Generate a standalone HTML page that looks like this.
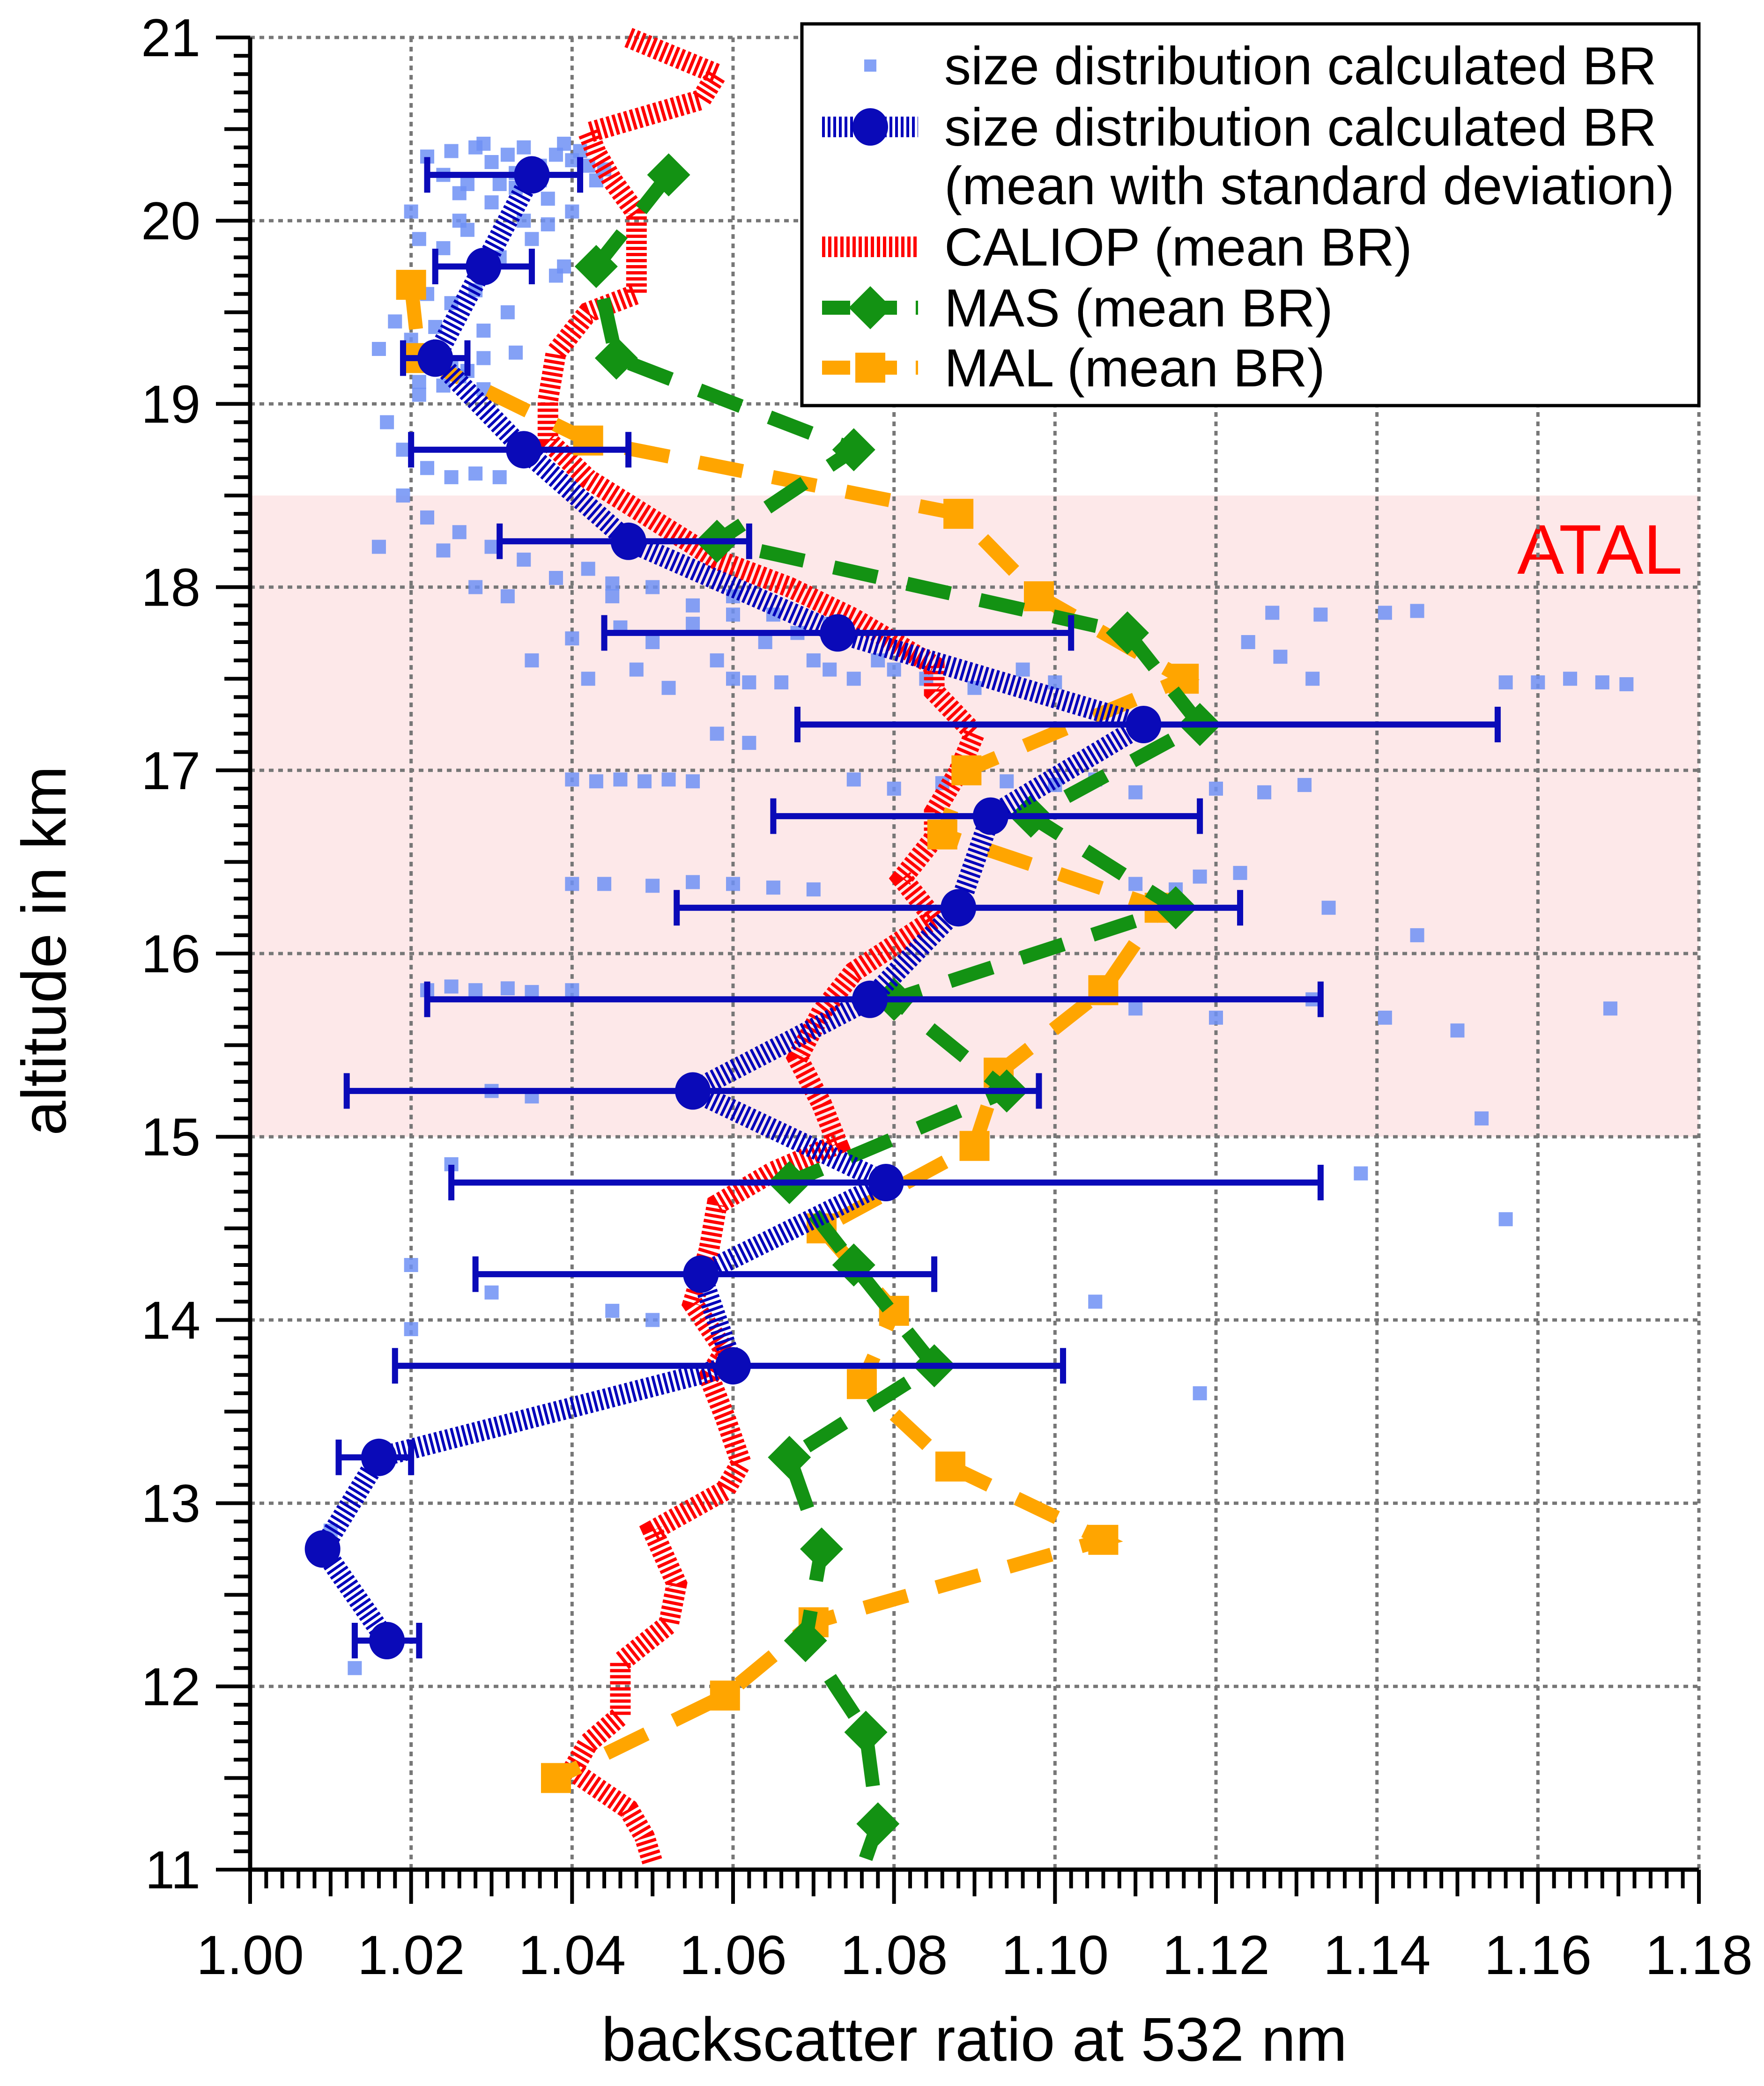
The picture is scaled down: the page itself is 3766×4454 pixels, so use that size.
<!DOCTYPE html>
<html><head><meta charset="utf-8"><style>
html,body{margin:0;padding:0;background:#fff}
svg{display:block}
text{font-family:"Liberation Sans",sans-serif}
</style></head><body>
<svg id="chart" width="3766" height="4454" viewBox="0 0 3766 4454" xmlns="http://www.w3.org/2000/svg">
<g id="bg"></g><g id="grid"></g><g id="series"></g><g id="axes"></g><g id="legend"></g>
</svg>
<script>
// ---- data ----
const xTicks=[1.00,1.02,1.04,1.06,1.08,1.10,1.12,1.14,1.16,1.18];
const xTickLabels=["1.00","1.02","1.04","1.06","1.08","1.10","1.12","1.14","1.16","1.18"];
const yTicks=[11,12,13,14,15,16,17,18,19,20,21];
const yTickLabels=["11","12","13","14","15","16","17","18","19","20","21"];
const meanAlt=[20.25,19.75,19.25,18.75,18.25,17.75,17.25,16.75,16.25,15.75,15.25,14.75,14.25,13.75,13.25,12.75,12.25];
const meanBR=[1.035,1.029,1.023,1.034,1.047,1.073,1.111,1.092,1.088,1.077,1.055,1.079,1.056,1.060,1.016,1.009,1.017];
const errLo=[1.022,1.023,1.019,1.020,1.031,1.044,1.068,1.065,1.053,1.022,1.012,1.025,1.028,1.018,1.011,null,1.013];
const errHi=[1.041,1.035,1.027,1.047,1.062,1.102,1.155,1.118,1.123,1.133,1.098,1.133,1.085,1.101,1.020,null,1.021];
const masAlt=[20.25,19.75,19.25,18.75,18.25,17.75,17.25,16.75,16.25,15.75,15.25,14.75,14.3,13.75,13.25,12.75,12.25,11.75,11.25,11.0];
const masBR=[1.052,1.043,1.0455,1.075,1.058,1.109,1.118,1.097,1.115,1.080,1.094,1.067,1.075,1.085,1.067,1.071,1.069,1.0765,1.078,1.076];
const malAlt=[19.65,19.25,18.8,18.4,17.95,17.5,17.0,16.65,16.25,15.8,15.35,14.95,14.5,14.05,13.65,13.2,12.8,12.35,11.95,11.5];
const malBR=[1.020,1.021,1.042,1.088,1.098,1.116,1.089,1.086,1.113,1.106,1.093,1.090,1.071,1.080,1.076,1.087,1.106,1.070,1.059,1.038];
const calAlt=[21.0,20.8,20.66,20.48,20.37,20.22,20.04,19.75,19.6,19.5,19.28,19.02,18.8,18.59,18.37,18.15,18.0,17.83,17.57,17.43,17.2,16.99,16.77,16.63,16.41,16.19,15.9,15.68,15.43,15.18,14.96,14.81,14.63,14.38,14.09,13.83,13.69,13.47,13.22,13.07,12.85,12.56,12.34,12.13,11.84,11.69,11.54,11.33,11.18,11.04];
const calBR=[1.047,1.058,1.056,1.042,1.043,1.045,1.048,1.048,1.048,1.042,1.038,1.037,1.037,1.042,1.050,1.058,1.067,1.075,1.085,1.085,1.090,1.088,1.085,1.085,1.081,1.085,1.075,1.071,1.068,1.071,1.073,1.065,1.058,1.057,1.055,1.059,1.057,1.059,1.061,1.059,1.050,1.053,1.052,1.046,1.046,1.042,1.040,1.047,1.049,1.050];
const scBR=[1.022,1.025,1.028,1.030,1.032,1.034,1.036,1.038,1.040,1.042,1.044,1.026,1.030,1.033,1.037,1.040,1.043,1.021,1.020,1.024,1.027,1.031,1.035,1.039,1.022,1.025,1.028,1.032,1.038,1.018,1.016,1.020,1.023,1.026,1.029,1.021,1.024,1.017,1.019,1.022,1.025,1.028,1.031,1.034,1.019,1.022,1.026,1.030,1.034,1.038,1.042,1.045,1.016,1.024,1.028,1.032,1.040,1.046,1.050,1.055,1.060,1.064,1.068,1.072,1.035,1.042,1.048,1.052,1.058,1.062,1.045,1.050,1.055,1.060,1.065,1.070,1.075,1.080,1.127,1.133,1.141,1.145,1.060,1.066,1.072,1.078,1.084,1.090,1.096,1.100,1.156,1.160,1.164,1.168,1.171,1.128,1.132,1.124,1.058,1.062,1.040,1.043,1.046,1.049,1.052,1.055,1.075,1.080,1.086,1.094,1.100,1.105,1.110,1.120,1.126,1.131,1.040,1.044,1.050,1.055,1.060,1.065,1.070,1.110,1.115,1.118,1.123,1.134,1.145,1.022,1.025,1.028,1.032,1.035,1.040,1.110,1.120,1.132,1.141,1.150,1.169,1.030,1.035,1.153,1.025,1.138,1.156,1.020,1.030,1.045,1.050,1.105,1.020,1.118,1.013,1.010,1.024,1.027,1.029,1.033,1.036,1.039,1.041,1.031,1.034,1.037,1.026,1.029,1.023,1.027,1.021,1.025,1.029,1.033];
const scAlt=[20.35,20.38,20.4,20.32,20.36,20.4,20.3,20.36,20.33,20.3,20.28,20.15,20.1,20.18,20.12,20.05,20.22,19.9,20.05,19.85,19.95,19.8,19.9,19.75,19.6,19.55,19.62,19.5,19.7,19.45,19.3,19.35,19.2,19.15,19.25,19.05,19.1,18.9,18.75,18.65,18.6,18.62,18.6,18.7,18.5,18.38,18.3,18.22,18.15,18.05,18.1,18.02,18.22,18.2,18.0,17.95,17.72,17.78,17.7,17.8,17.85,17.7,17.75,17.8,17.6,17.5,17.55,17.45,17.6,17.48,17.95,18.0,17.9,17.95,17.85,17.6,17.5,17.55,17.86,17.85,17.86,17.87,17.5,17.48,17.55,17.6,17.5,17.45,17.55,17.48,17.48,17.48,17.5,17.48,17.47,17.62,17.5,17.7,17.2,17.15,16.95,16.94,16.95,16.94,16.95,16.94,16.95,16.9,16.93,16.94,16.92,16.95,16.88,16.9,16.88,16.92,16.38,16.38,16.37,16.39,16.38,16.36,16.35,16.38,16.35,16.42,16.44,16.25,16.1,15.8,15.82,15.8,15.81,15.79,15.8,15.7,15.65,15.75,15.65,15.58,15.7,15.25,15.22,15.1,14.85,14.8,14.55,14.3,14.15,14.05,14.0,14.1,13.95,13.6,12.1,12.85,20.25,20.2,20.42,20.26,20.22,20.42,20.38,20.2,20.0,19.98,20.0,19.4,19.42,19.18,19.12,19.2,19.08,19.28];
// ---- geometry ----
const X0=534,X1=3627,Y0=3992,Y1=80;
const xs=v=>X0+(v-1.0)/0.18*(X1-X0);
const ys=a=>Y0-(a-11)/10*(Y0-Y1);
const NS="http://www.w3.org/2000/svg";
function mk(tag,parent,attrs){const e=document.createElementNS(NS,tag);for(const k in attrs)e.setAttribute(k,attrs[k]);parent.appendChild(e);return e;}
const bg=document.getElementById('bg'),grid=document.getElementById('grid'),ser=document.getElementById('series'),axes=document.getElementById('axes'),leg=document.getElementById('legend');
// ATAL band
let band=mk('rect',bg,{x:X0,y:ys(18.5),width:X1-X0,height:ys(15)-ys(18.5),fill:'#fde8e9'});


let at=mk('text',bg,{x:3592,y:1225,'font-size':150,fill:'#ff0000','text-anchor':'end'});at.textContent='ATAL';


// grid
xTicks.forEach((v,i)=>{if(i==0)return;let l=mk('line',grid,{x1:xs(v),x2:xs(v),y1:Y1,y2:Y0,stroke:'#777',"stroke-width":7,"stroke-dasharray":"10 10"});

});
yTicks.forEach((a,i)=>{if(i==0)return;let l=mk('line',grid,{x1:X0,x2:X1,y1:ys(a),y2:ys(a),stroke:'#777',"stroke-width":7,"stroke-dasharray":"10 10"});

});
// scatter
scBR.forEach((v,i)=>{let r=mk('rect',ser,{x:xs(v)-15,y:ys(scAlt[i])-15,width:30,height:30,fill:'rgba(110,145,245,0.85)'});

});
function pts(b,a){return b.map((v,i)=>xs(v)+','+ys(a[i])).join(' ');}
// CALIOP
let cal=mk('polyline',ser,{points:pts(calBR,calAlt),fill:'none',stroke:'#ff0000','stroke-width':44,'stroke-dasharray':'7 6','stroke-linejoin':'miter'});


// MAL
let mal=mk('polyline',ser,{points:pts(malBR,malAlt),fill:'none',stroke:'#ffa500','stroke-width':30,'stroke-dasharray':'95 65'});


malBR.forEach((v,i)=>{let r=mk('rect',ser,{x:xs(v)-32,y:ys(malAlt[i])-32,width:64,height:64,fill:'#ffa500'});

});
// MAS
let mas=mk('polyline',ser,{points:pts(masBR,masAlt),fill:'none',stroke:'#139213','stroke-width':30,'stroke-dasharray':'95 65'});


masBR.forEach((v,i)=>{if(i==masBR.length-1)return;const x=xs(v),y=ys(masAlt[i]);let p=mk('polygon',ser,{points:`${x},${y-46} ${x+46},${y} ${x},${y+46} ${x-46},${y}`,fill:'#139213'});

});
// blue mean
let bl=mk('polyline',ser,{points:pts(meanBR,meanAlt),fill:'none',stroke:'#0000bb','stroke-width':44,'stroke-dasharray':'6 6'});


meanBR.forEach((v,i)=>{const y=ys(meanAlt[i]);
if(errLo[i]!==null){let e=mk('path',ser,{d:`M${xs(errLo[i])},${y}H${xs(errHi[i])}M${xs(errLo[i])},${y-38}V${y+38}M${xs(errHi[i])},${y-38}V${y+38}`,stroke:'#0a0ab8','stroke-width':13,fill:'none'});

}
let c=mk('ellipse',ser,{cx:xs(v),cy:y,rx:38,ry:40,fill:'#0a0ab8'});

});
// axes
let ax=mk('path',axes,{d:`M${X0},${Y1}V${Y0}H${X1}`,stroke:'#000','stroke-width':9,fill:'none'});


let tk='';
for(let k=0;k<=90;k++){const v=1+k*0.002,x=xs(v);const L=(k%10==0)?73:(k%5==0)?57:40;tk+=`M${x},${Y0}V${Y0+L}`;}
for(let k=0;k<=100;k++){const a=11+k*0.1,y=ys(a);const L=(k%10==0)?73:(k%5==0)?55:35;tk+=`M${X0},${y}H${X0-L}`;}
let t=mk('path',axes,{d:tk,stroke:'#000','stroke-width':8});


xTicks.forEach((v,i)=>{let e=mk('text',axes,{x:xs(v),y:4215,'font-size':118,'text-anchor':'middle'});e.textContent=xTickLabels[i];

});
yTicks.forEach((a,i)=>{let e=mk('text',axes,{x:428,y:ys(a)+40,'font-size':114,'text-anchor':'end'});e.textContent=yTickLabels[i];

});
let xt=mk('text',axes,{x:2080,y:4400,'font-size':132,'text-anchor':'middle'});xt.textContent='backscatter ratio at 532 nm';


let yt=mk('text',axes,{x:0,y:0,'font-size':134,'text-anchor':'middle',transform:'translate(140,2030) rotate(-90)'});yt.textContent='altitude in km';


// legend
let lb=mk('rect',leg,{x:1712,y:51,width:1915,height:815,fill:'#fff',stroke:'#000','stroke-width':7});


const lx1=1755,lx2=1960,tx=2016;
function ltext(s,y,name){let e=mk('text',leg,{x:tx,y:y+40,'font-size':114});e.textContent=s;

}
let r1=mk('rect',leg,{x:1858-13,y:140-13,width:26,height:26,fill:'rgba(110,145,245,0.85)'});


ltext('size distribution calculated BR',140,'legend-scatter-label');
let l2=mk('line',leg,{x1:lx1,x2:lx2,y1:271,y2:271,stroke:'#0000bb','stroke-width':44,'stroke-dasharray':'6 6'});


let c2=mk('ellipse',leg,{cx:1858,cy:271,rx:38,ry:40,fill:'#0a0ab8'});


ltext('size distribution calculated BR',271,'legend-mean-label');
ltext('(mean with standard deviation)',396,'legend-mean-label-2');
let l3=mk('line',leg,{x1:lx1,x2:lx2,y1:527,y2:527,stroke:'#ff0000','stroke-width':44,'stroke-dasharray':'7 6'});


ltext('CALIOP (mean BR)',527,'legend-caliop-label');
let l4=mk('line',leg,{x1:lx1,x2:lx2,y1:657,y2:657,stroke:'#139213','stroke-width':30,'stroke-dasharray':'60 40'});


let d4=mk('polygon',leg,{points:'1858,611 1904,657 1858,703 1812,657',fill:'#139213'});


ltext('MAS (mean BR)',657,'legend-mas-label');
let l5=mk('line',leg,{x1:lx1,x2:lx2,y1:785,y2:785,stroke:'#ffa500','stroke-width':30,'stroke-dasharray':'60 40'});


let s5=mk('rect',leg,{x:1826,y:753,width:64,height:64,fill:'#ffa500'});


ltext('MAL (mean BR)',785,'legend-mal-label');
</script>
</body></html>
